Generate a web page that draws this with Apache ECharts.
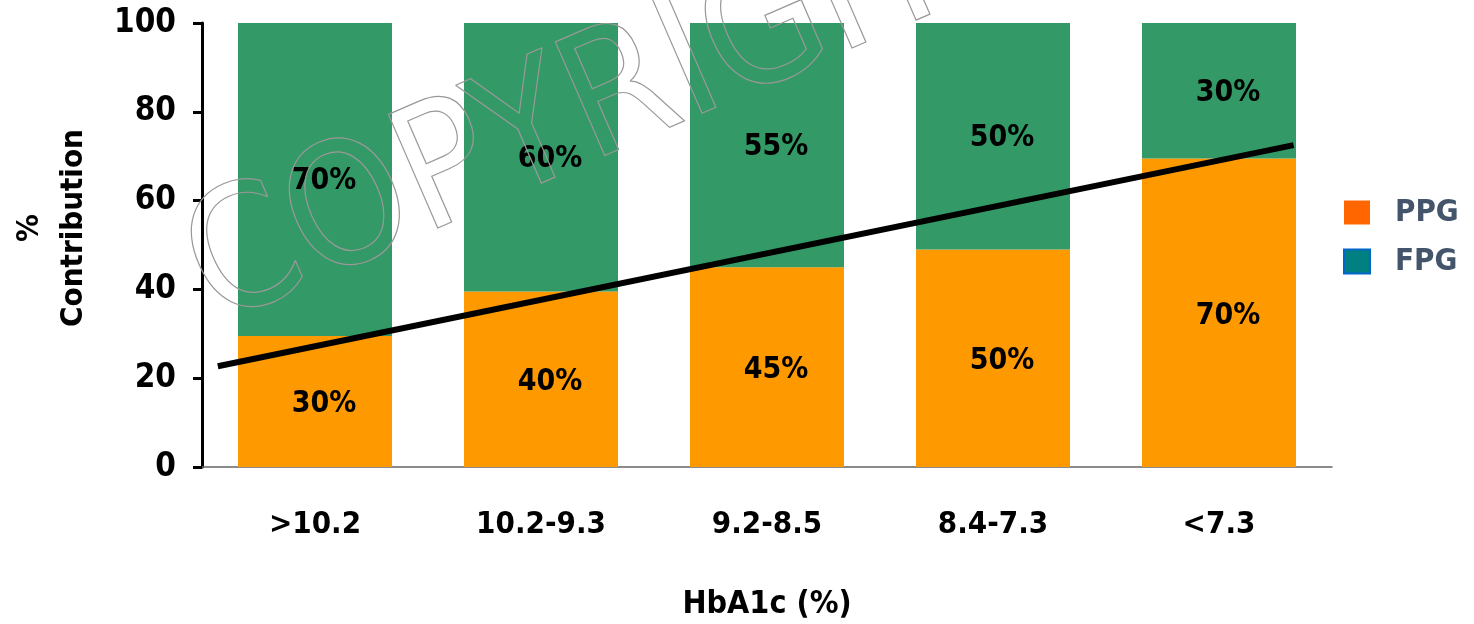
<!DOCTYPE html>
<html>
<head>
<meta charset="utf-8">
<script src="https://cdn.jsdelivr.net/npm/echarts@6/dist/echarts.min.js"></script>
<style>
html,body{margin:0;padding:0;background:#fff;}
#main{width:1474px;height:624px;}
</style>
</head>
<body>
<div id="main"></div>
<script>
var categories = ['>10.2', '10.2-9.3', '9.2-8.5', '8.4-7.3', '<7.3'];
var ppgValues = [29.5, 39.5, 45, 49, 69.5];
var fpgValues = [70.5, 60.5, 55, 51, 30.5];
var ppgLabels = ['30%', '40%', '45%', '50%', '70%'];
var fpgLabels = ['70%', '60%', '55%', '50%', '30%'];
// trend line end points [category position, %]
var trendLine = [[-0.43, 22.7], [4.33, 72.5]];

var font = '"DejaVu Sans Condensed", "DejaVu Sans", sans-serif';
var myChart = echarts.init(document.getElementById('main'));

var option = {
    animation: false,
    textStyle: {fontFamily: font},
    grid: {left: 202, right: 142, top: 23, bottom: 157, outerBoundsMode: 'none', containLabel: false},
    legend: {
        orient: 'vertical',
        left: 1338,
        top: 192,
        itemWidth: 26,
        itemHeight: 24,
        itemGap: 18,
        icon: 'rect',
        textStyle: {fontSize: 31, fontWeight: 'bold', color: '#44546A', fontFamily: font, padding: [0, 0, 0, 20]},
        data: [
            {name: 'PPG', itemStyle: {color: '#FF6600'}},
            {name: 'FPG', itemStyle: {color: '#008080', borderColor: '#0066CC', borderWidth: 2}}
        ]
    },
    xAxis: [
        {
            type: 'category',
            data: categories,
            axisLine: {lineStyle: {color: '#666', width: 1.5}},
            axisTick: {show: false},
            axisLabel: {fontSize: 31, fontWeight: 'bold', color: '#000', margin: 42, fontFamily: font},
            name: 'HbA1c (%)',
            nameLocation: 'middle',
            nameGap: 122,
            nameTextStyle: {fontSize: 32, fontWeight: 'bold', color: '#000', fontFamily: font}
        },
        {
            type: 'value',
            min: -0.5,
            max: 4.5,
            show: false
        }
    ],
    yAxis: {
        type: 'value',
        min: 0,
        max: 100,
        interval: 20,
        axisLine: {show: true, onZero: false, lineStyle: {color: '#000', width: 3}},
        axisTick: {show: true, length: 9, lineStyle: {color: '#000', width: 3}},
        axisLabel: {fontSize: 33, fontWeight: 'bold', color: '#000', margin: 26, fontFamily: font},
        splitLine: {show: false}
    },
    series: [
        {
            name: 'PPG',
            type: 'bar',
            stack: 'total',
            barWidth: 154,
            data: ppgValues,
            itemStyle: {color: '#FF9900'},
            label: {
                show: true,
                position: 'inside',
                offset: [9, 3],
                fontSize: 30,
                fontWeight: 'bold',
                color: '#000',
                fontFamily: font,
                formatter: function (p) { return ppgLabels[p.dataIndex]; }
            }
        },
        {
            name: 'FPG',
            type: 'bar',
            stack: 'total',
            barWidth: 154,
            data: fpgValues,
            itemStyle: {color: '#339966'},
            label: {
                show: true,
                position: 'inside',
                offset: [9, 2],
                fontSize: 30,
                fontWeight: 'bold',
                color: '#000',
                fontFamily: font,
                formatter: function (p) { return fpgLabels[p.dataIndex]; }
            }
        },
        {
            name: 'trend',
            type: 'line',
            xAxisIndex: 1,
            data: trendLine,
            symbol: 'none',
            lineStyle: {color: '#000', width: 6},
            z: 5
        }
    ],
    graphic: [
        {
            type: 'text',
            x: 52,
            y: 228,
            rotation: Math.PI / 2,
            style: {
                text: '%\nContribution',
                font: 'bold 31px ' + font,
                fill: '#000',
                textAlign: 'center',
                textVerticalAlign: 'middle',
                lineHeight: 44
            }
        },
        {
            type: 'text',
            x: 232,
            y: 362,
            rotation: 0.41,
            z: 100,
            silent: true,
            style: {
                text: 'COPYRIGHT',
                font: '170px "DejaVu Sans Condensed", "DejaVu Sans", sans-serif',
                fill: 'rgba(0,0,0,0)',
                stroke: '#999',
                lineWidth: 1.2,
                textAlign: 'left',
                textVerticalAlign: 'bottom'
            }
        }
    ]
};
myChart.setOption(option);
</script>
</body>
</html>
